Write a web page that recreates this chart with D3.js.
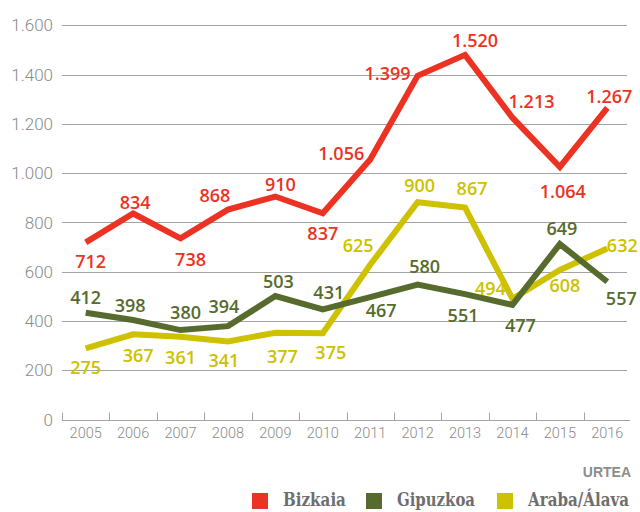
<!DOCTYPE html>
<html>
<head>
<meta charset="utf-8">
<script src="https://cdn.jsdelivr.net/npm/d3@7"></script>
<style>
  body { margin: 0; background: #fff; overflow: hidden; }
</style>
</head>
<body>
<div id="chart"></div>
<script>
// years on the x axis
const years = ['2005', '2006', '2007', '2008', '2009', '2010', '2011', '2012', '2013', '2014', '2015', '2016'];

// where the lines are drawn
const bizkaia  = [719, 836, 735, 852, 905, 837, 1055, 1395, 1480, 1225, 1025, 1265];
const gipuzkoa = [433, 404, 363, 379, 501, 447, 497, 548, 509, 465, 712, 559];
const araba    = [289, 346, 336, 317, 352, 350, 628, 882, 860, 490, 607, 694];

// the printed values next to each point
const bizkaiaLabels  = [712, 834, 738, 868, 910, 837, 1056, 1399, 1520, 1213, 1064, 1267];
const gipuzkoaLabels = [412, 398, 380, 394, 503, 431, 467, 580, 551, 477, 649, 557];
const arabaLabels    = [275, 367, 361, 341, 377, 375, 625, 900, 867, 494, 608, 632];

const seriesNames = ['Bizkaia', 'Gipuzkoa', 'Araba/Álava'];
const yTicks = [0, 200, 400, 600, 800, 1000, 1200, 1400, 1600];
const axisTitle = 'URTEA';

const colors = {Bizkaia: '#ec3323', Gipuzkoa: '#566b2d', 'Araba/Álava': '#cdc100'};

// label placement around each point [dx, dy]
const offsets = {
  Bizkaia: [[5,26],[2,-5],[10,28],[-13,-8],[5,-6],[0,27],[-29,0],[-30,4],[10,-8],[19,-10],[3,31],[2,-5]],
  Gipuzkoa: [[0,-9],[-3,-8],[5,-11],[-4,-13],[3,-8],[6,-10],[11,20],[7,-11],[-2,28],[8,27],[2,-9],[14,23]],
  'Araba/Álava': [[0,26],[5,28],[0,27],[-4,26],[7,30],[8,26],[-12,-13],[2,-10],[7,-13],[-22,-4],[5,22],[15,3]]
};

const series = [
  {name: 'Araba/Álava', values: araba, labels: arabaLabels},
  {name: 'Gipuzkoa', values: gipuzkoa, labels: gipuzkoaLabels},
  {name: 'Bizkaia', values: bizkaia, labels: bizkaiaLabels}
];

const W = 640, H = 512;
const locale = d3.formatLocale({decimal: ',', thousands: '.', grouping: [3], currency: ['', '€']});
const fmt = locale.format(',');

const svg = d3.select('#chart')
  .append('svg')
  .attr('width', W)
  .attr('height', H);

const x = d3.scaleBand()
  .domain(years)
  .range([62, 631]);

const y = d3.scaleLinear()
  .domain([0, 1600])
  .range([419.5, 25.3]);

const cx = d => x(d) + x.bandwidth() / 2;

// grid lines
svg.append('g')
  .selectAll('line')
  .data(yTicks.filter(d => d > 0))
  .join('line')
  .attr('x1', 62)
  .attr('x2', 627)
  .attr('y1', d => Math.round(y(d)) + 0.5)
  .attr('y2', d => Math.round(y(d)) + 0.5)
  .attr('stroke', '#a3a3a3')
  .attr('stroke-width', 1);

// y labels
svg.append('g')
  .selectAll('text')
  .data(yTicks)
  .join('text')
  .attr('x', 53)
  .attr('y', d => y(d))
  .attr('dy', '0.36em')
  .attr('text-anchor', 'end')
  .style('font-family', 'Roboto, "Liberation Sans", sans-serif')
  .style('font-weight', 300)
  .style('font-size', '17px')
  .style('fill', '#8a8a8a')
  .text(d => fmt(d));

// x axis
const xAxis = svg.append('g')
  .attr('transform', `translate(0,${Math.round(y(0)) + 0.5})`);

xAxis.append('line')
  .attr('x1', 62)
  .attr('x2', 630)
  .attr('stroke', '#a3a3a3');

xAxis.selectAll('line.tick')
  .data(years)
  .join('line')
  .attr('class', 'tick')
  .attr('x1', d => Math.round(x(d)) + 0.5)
  .attr('x2', d => Math.round(x(d)) + 0.5)
  .attr('y1', 0)
  .attr('y2', -8)
  .attr('stroke', '#a3a3a3');

xAxis.selectAll('text')
  .data(years)
  .join('text')
  .attr('x', d => cx(d))
  .attr('y', 17)
  .attr('text-anchor', 'middle')
  .style('font-family', 'Roboto, "Liberation Sans", sans-serif')
  .style('font-weight', 300)
  .style('font-size', '14.5px')
  .style('fill', '#8a8a8a')
  .text(d => d);

// lines
const line = d3.line()
  .x((d, i) => cx(years[i]))
  .y(d => y(d));

svg.append('g')
  .selectAll('path')
  .data(series)
  .join('path')
  .attr('d', d => line(d.values))
  .attr('fill', 'none')
  .attr('stroke', d => colors[d.name])
  .attr('stroke-width', 6)
  .attr('stroke-linejoin', 'miter');

// value labels
series.forEach(s => {
  svg.append('g')
    .selectAll('text')
    .data(s.labels)
    .join('text')
    .attr('x', (d, i) => cx(years[i]) + offsets[s.name][i][0])
    .attr('y', (d, i) => y(s.values[i]) + offsets[s.name][i][1])
    .attr('text-anchor', 'middle')
    .style('font-family', '"Open Sans", sans-serif')
    .style('font-weight', 600)
    .style('font-size', '18px')
    .style('fill', colors[s.name])
    .text(d => fmt(d));
});

// axis title
svg.append('text')
  .attr('x', 631)
  .attr('y', 477)
  .attr('text-anchor', 'end')
  .style('font-family', '"Liberation Sans", Arial, sans-serif')
  .style('font-weight', 'bold')
  .style('font-size', '14px')
  .style('fill', '#8c8c8c')
  .text(axisTitle);

// legend
const legendX = [252, 366, 497];
const legendW = [63, 78, 101];
const legend = svg.append('g')
  .selectAll('g')
  .data(seriesNames)
  .join('g')
  .attr('transform', (d, i) => `translate(${legendX[i]},491)`);

legend.append('rect')
  .attr('y', 2)
  .attr('width', 16)
  .attr('height', 16)
  .attr('fill', d => colors[d]);

// condensed slab look: squeeze the serif text horizontally
legend.append('text')
  .style('font-family', '"DejaVu Serif", serif')
  .style('font-weight', 'bold')
  .style('font-size', '19px')
  .style('fill', '#6e6e6e')
  .text(d => d)
  .attr('transform', function(d, i) {
    const k = legendW[i] / this.getComputedTextLength();
    return `translate(31,15) scale(${k},1)`;
  });
</script>
</body>
</html>
